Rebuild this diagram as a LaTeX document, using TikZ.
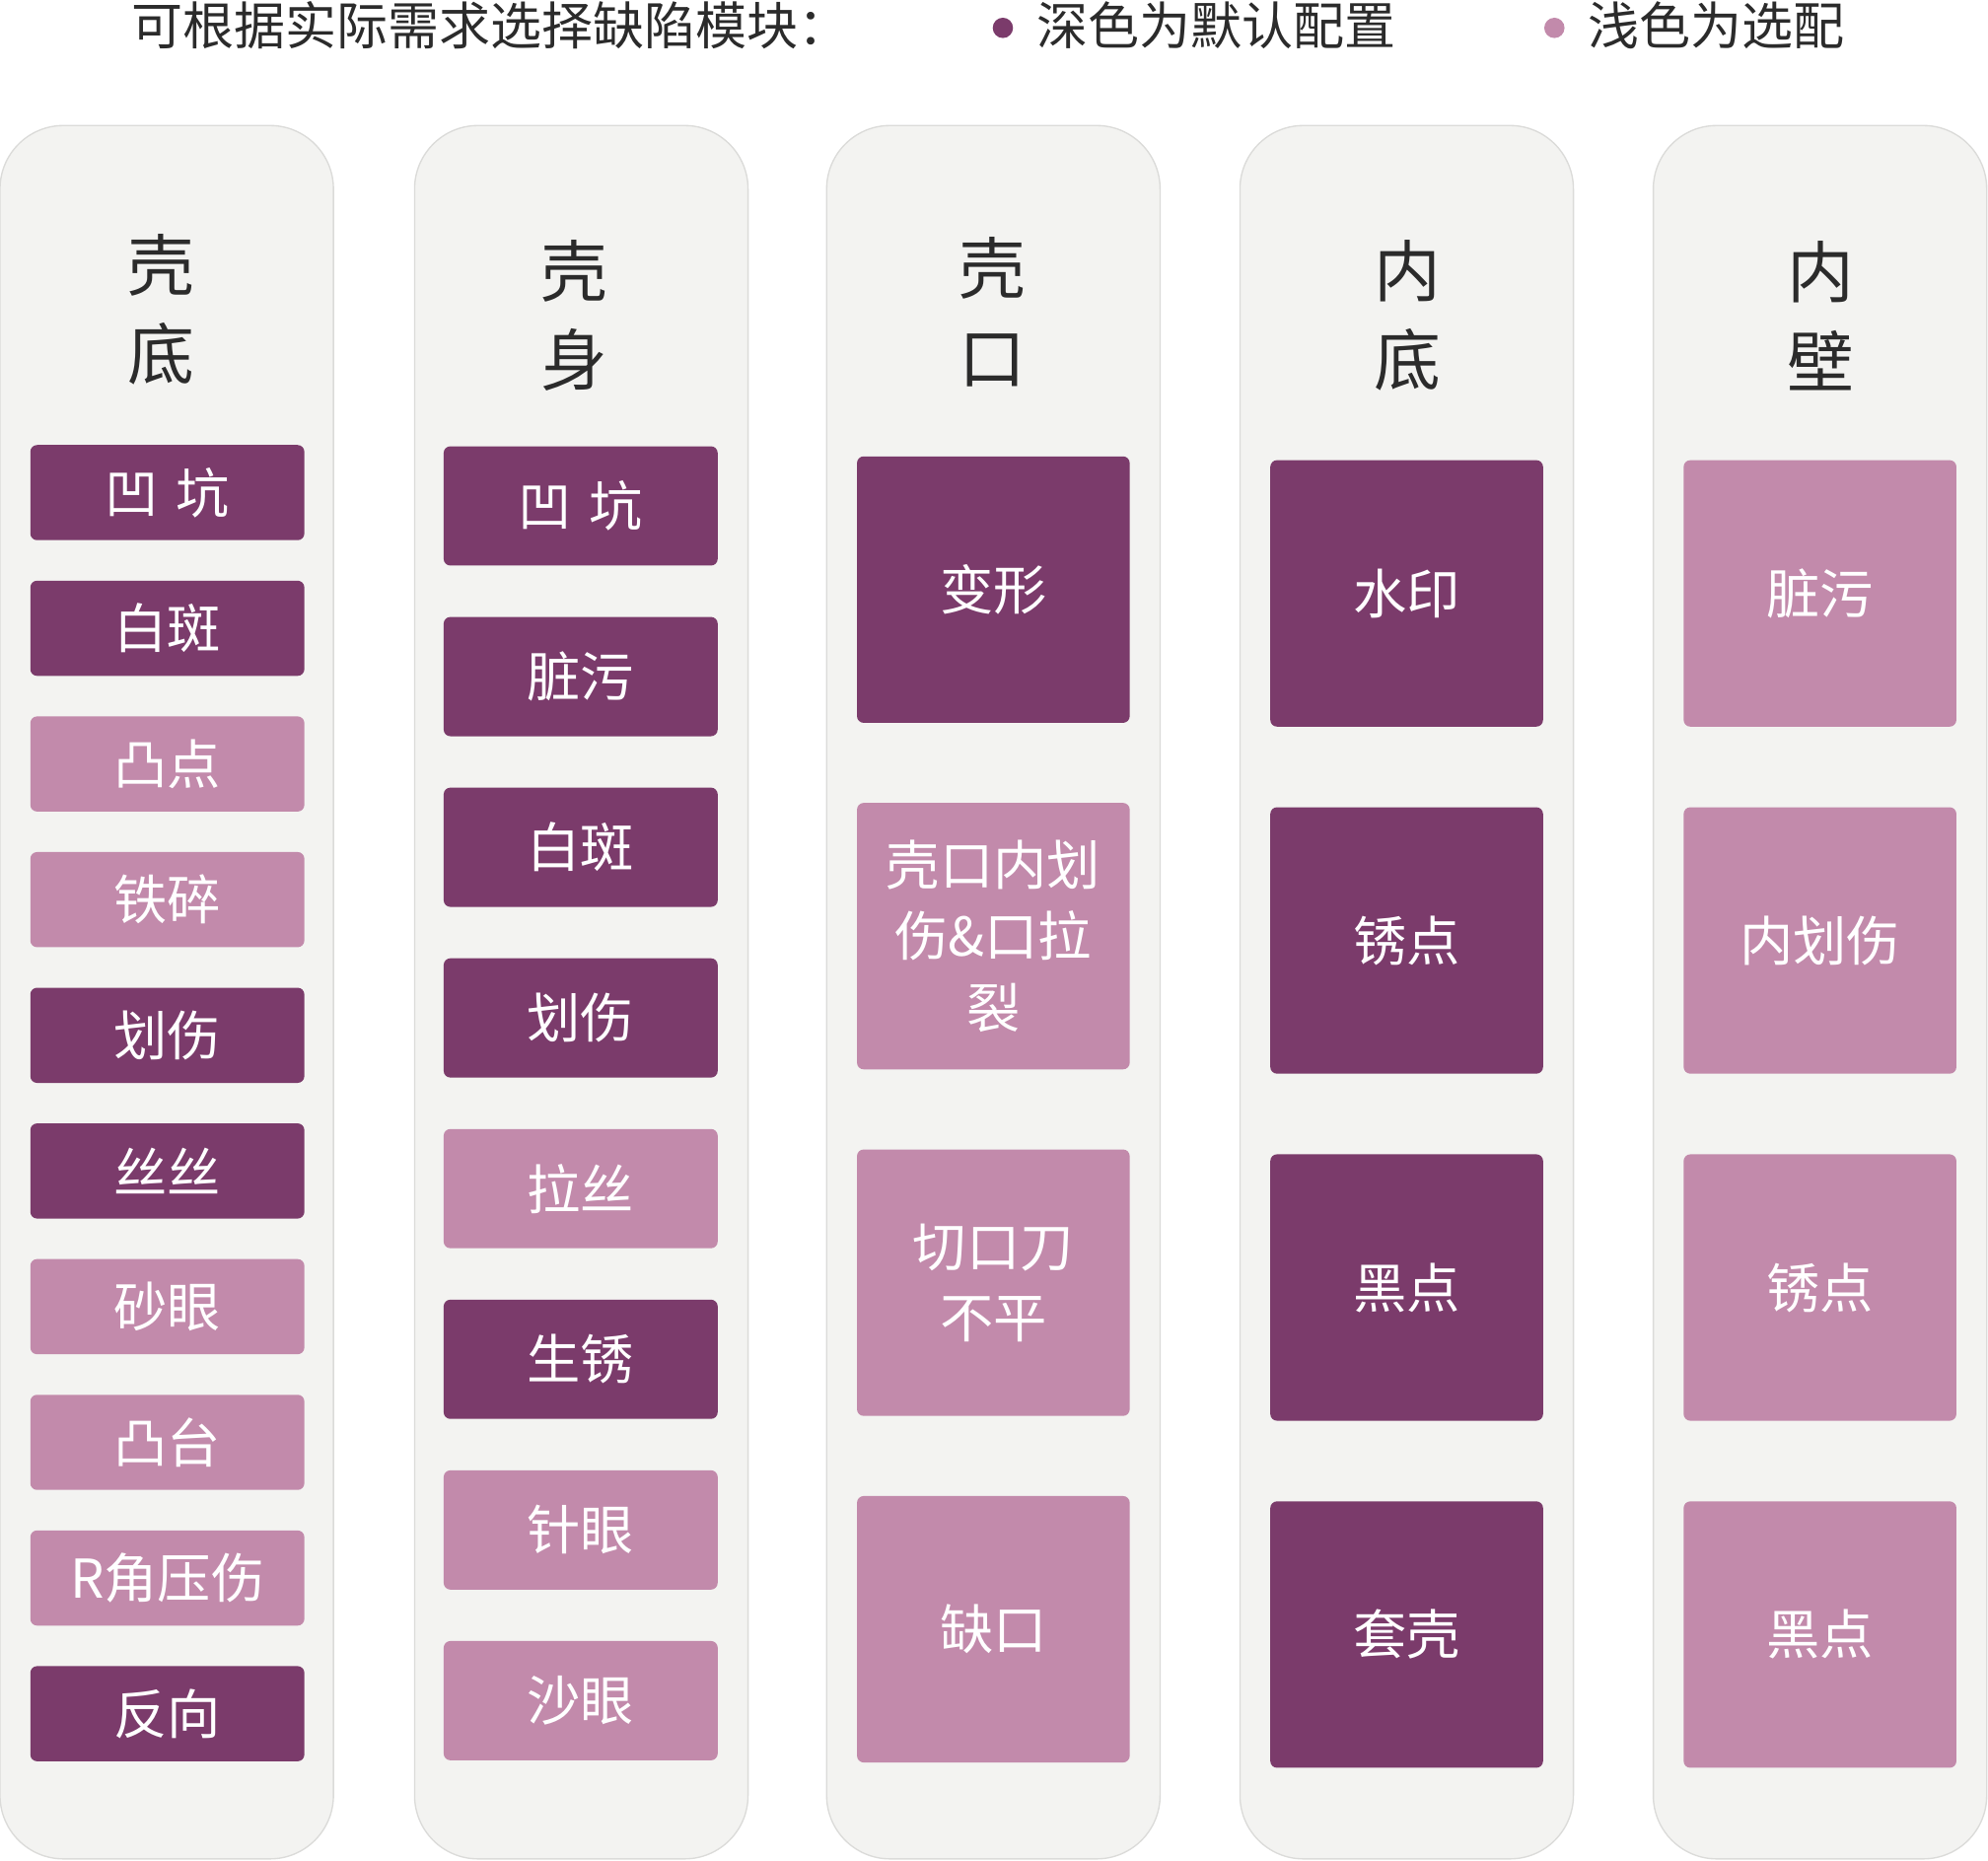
\documentclass[tikz,border=0pt]{standalone}
\usepackage{fontspec}
\setmainfont{Noto Sans CJK SC}
\usetikzlibrary{positioning}
\definecolor{darkpurple}{HTML}{7B3B6B}
\definecolor{lightpurple}{HTML}{C28AAB}
\definecolor{panelgray}{HTML}{F3F3F1}
\definecolor{textgray}{HTML}{2B2B2B}

\begin{document}
\begin{tikzpicture}[x=0.01cm,y=-0.01cm,
  panel/.style={fill=panelgray,draw=panelgray!90!black,line width=0.3pt,rounded corners=0.5cm},
  title/.style={font=\fontsize{15}{20}\selectfont,text=textgray,align=center},
  legend/.style={anchor=west,inner sep=0pt,text=textgray,font=\fontsize{11.5}{14}\selectfont},
  D/.style={fill=darkpurple,rounded corners=1.5pt,text=white,font=\fontsize{12}{15}\selectfont,align=center,inner sep=0pt},
  L/.style={D,fill=lightpurple}]
\useasboundingbox (0,0) rectangle (1568,1467);

% legend
\node[legend] (hint) at (103,20) {可根据实际需求选择缺陷模块：};
\fill[darkpurple] (791,22) circle (8);
\node[legend] (dark) at (817,20) {深色为默认配置};
\fill[lightpurple] (1226,22) circle (8);
\node[legend] (light) at (1252,20) {浅色为选配};

% panels
\foreach \x in {0,327,652,978,1304}
  \draw[panel] (\x,99) rectangle ++(263,1367);

% titles
\node[title] (t1) at (127,244) {壳\\底};
\node[title] (t2) at (453,249) {壳\\身};
\node[title] (t3) at (783,246) {壳\\口};
\node[title] (t4) at (1110,249) {内\\底};
\node[title] (t5) at (1436,249) {内\\壁};

% shell bottom
\foreach \s/\t [count=\i] in {D/凹 坑,D/白斑,L/凸点,L/铁碎,D/划伤,D/丝丝,L/砂眼,L/凸台,L/R角压伤,D/反向}
  \node[\s,text width=2.16cm,minimum height=0.75cm] (a\i) at (132,{388.5+107*(\i-1)}) {\t};

% shell body
\foreach \s/\t [count=\i] in {D/凹 坑,D/脏污,D/白斑,D/划伤,L/拉丝,D/生锈,L/针眼,L/沙眼}
  \node[\s,text width=2.16cm,minimum height=0.94cm] (b\i) at (458,{399+134.6*(\i-1)}) {\t};

% shell mouth
\foreach \s/\t [count=\i] in {D/变形,L/壳口内划\\伤\&口拉\\裂,L/切口刀\\不平,L/缺口}
  \node[\s,text width=2.15cm,minimum height=2.1cm,font=\fontsize{12}{16}\selectfont] (c\i) at (783.5,{465+273.3*(\i-1)}) {\t};

% inner bottom
\foreach \s/\t [count=\i] in {D/水印,D/锈点,D/黑点,D/套壳}
  \node[\s,text width=2.15cm,minimum height=2.1cm] (d\i) at (1109.5,{468+273.7*(\i-1)}) {\t};

% inner wall
\foreach \s/\t [count=\i] in {L/脏污,L/内划伤,L/锈点,L/黑点}
  \node[\s,text width=2.15cm,minimum height=2.1cm] (e\i) at (1435.5,{468+273.7*(\i-1)}) {\t};
\end{tikzpicture}
\end{document}
